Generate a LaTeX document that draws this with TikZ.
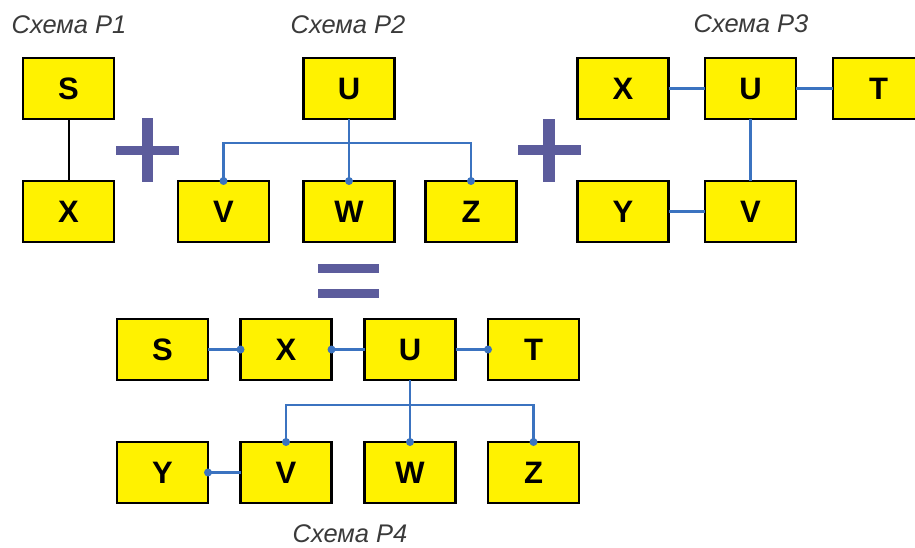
\documentclass[tikz,border=0pt]{standalone}
\usepackage{fontspec}
\setmainfont{Liberation Sans}
\definecolor{boxyellow}{HTML}{FFF200}
\definecolor{linkblue}{HTML}{3B73C0}
\definecolor{opcolor}{HTML}{5C5C9C}
\definecolor{titlegray}{HTML}{3A3A3A}
\begin{document}
\begin{tikzpicture}[x=1pt,y=-1pt,
  blk/.style={draw=black,fill=boxyellow,line width=2.4pt,minimum width=91pt,minimum height=61pt,inner sep=0pt,outer sep=0pt,font=\fontsize{31}{31}\selectfont\bfseries},
  ttl/.style={anchor=base,text=titlegray,font=\fontsize{25.5}{25.5}\selectfont\itshape,inner sep=0pt},
  bus/.style={draw=linkblue,line width=2.4pt},
  plain/.style={draw=black,line width=2pt},
  dot/.style={fill=linkblue},
  op/.style={fill=opcolor}]
\useasboundingbox (0,0) rectangle (915,548);
% titles
\node[ttl] (t1) at (69,33.5) {Схема P1};
\node[ttl] (t2) at (348,33.5) {Схема P2};
\node[ttl] (t3) at (751,33) {Схема P3};
\node[ttl] (t4) at (350,542) {Схема P4};
% P1
\node[blk] (s1) at (68.5,88.5) {S};
\node[blk] (x1) at (68.5,211.5) {X};
\draw[plain] (s1.south) -- (x1.north);
% plus 1
\fill[op] (115.5,146.5) rectangle (178.5,155.5);
\fill[op] (141.5,118.5) rectangle (152.5,182.5);
% P2
\node[blk] (u2) at (349,88.5) {U};
\node[blk] (v2) at (223.5,211.5) {V};
\node[blk] (w2) at (349,211.5) {W};
\node[blk] (z2) at (471,211.5) {Z};
\draw[bus] (u2.south) -- (w2.north);
\draw[bus] (v2.north) -- ++(0,-38) -| (z2.north);
\fill[dot] (v2.north) circle (4pt);
\fill[dot] (w2.north) circle (4pt);
\fill[dot] (z2.north) circle (4pt);
% plus 2
\fill[op] (518,145) rectangle (581,155);
\fill[op] (543,119.5) rectangle (555,182);
% P3
\node[blk] (x3) at (623,88.5) {X};
\node[blk] (u3) at (750.5,88.5) {U};
\node[blk] (t3b) at (878.5,88.5) {T};
\node[blk] (y3) at (623,211.5) {Y};
\node[blk] (v3) at (750.5,211.5) {V};
\draw[bus] (x3.east) -- (u3.west);
\draw[bus] (u3.east) -- (t3b.west);
\draw[bus] (u3.south) -- (v3.north);
\draw[bus] (y3.east) -- (v3.west);
% equals
\fill[op] (318,264) rectangle (379,273);
\fill[op] (318,289) rectangle (379,298);
% P4
\node[blk] (s4) at (162.5,349.5) {S};
\node[blk] (x4) at (286,349.5) {X};
\node[blk] (u4) at (410,349.5) {U};
\node[blk] (t4b) at (533.5,349.5) {T};
\node[blk] (y4) at (162.5,472.5) {Y};
\node[blk] (v4) at (286,472.5) {V};
\node[blk] (w4) at (410,472.5) {W};
\node[blk] (z4) at (533.5,472.5) {Z};
\draw[bus] (s4.east) -- (x4.west);
\draw[bus] (x4.east) -- (u4.west);
\draw[bus] (u4.east) -- (t4b.west);
\draw[bus] (u4.south) -- (w4.north);
\draw[bus] (v4.north) -- ++(0,-37) -| (z4.north);
\draw[bus] (y4.east) -- (v4.west);
\fill[dot] (x4.west) circle (4pt);
\fill[dot] (x4.east) circle (4pt);
\fill[dot] (t4b.west) circle (4pt);
\fill[dot] (v4.north) circle (4pt);
\fill[dot] (w4.north) circle (4pt);
\fill[dot] (z4.north) circle (4pt);
\fill[dot] (y4.east) circle (4pt);
\end{tikzpicture}
\end{document}
